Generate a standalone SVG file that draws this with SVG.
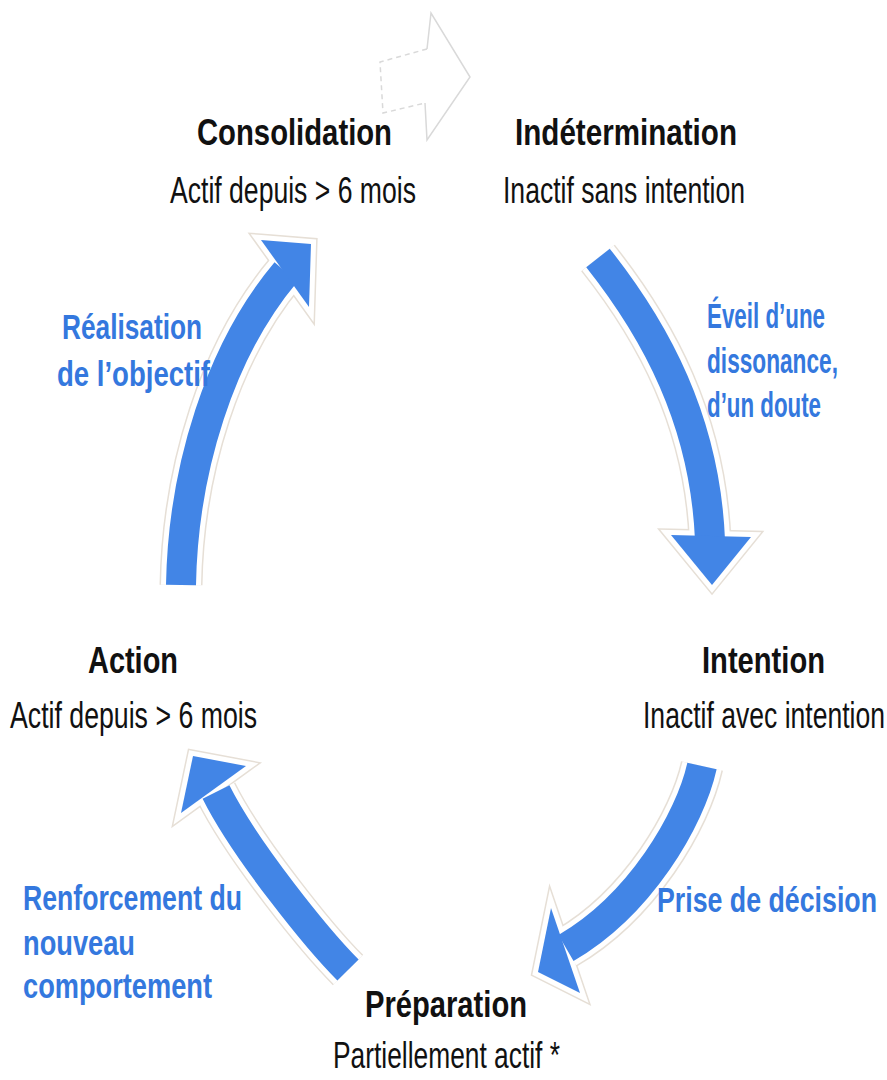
<svg xmlns="http://www.w3.org/2000/svg" width="887" height="1080" viewBox="0 0 887 1080">
<style>
.o{fill:none;stroke:#e6dfd6;stroke-width:43}
.w{fill:none;stroke:#ffffff;stroke-width:40}
.b{fill:none;stroke:#4285e6;stroke-width:30}
.oh{fill:#e6dfd6;stroke:#e6dfd6;stroke-width:13;stroke-linejoin:miter}
.wh{fill:#fff;stroke:#fff;stroke-width:10;stroke-linejoin:miter}
.bh{fill:#4285e6}
.t{font-family:"Liberation Sans",Arial,sans-serif;font-weight:bold;font-size:37px;fill:#111}
.s{font-family:"Liberation Sans",Arial,sans-serif;font-size:37px;fill:#111}
.l{font-family:"Liberation Sans",Arial,sans-serif;font-weight:bold;font-size:35px;fill:#3478de}
.ghost{fill:none;stroke:#d9d9d9;stroke-width:1.5}
</style>
<defs>
<path id="s1" d="M181,585 C183,470 220,350 286,272"/>
<polygon id="h1" points="261,240 311,244 309,307"/>
<path id="s2" d="M598,258 C655,330 705,420 710,540"/>
<polygon id="h2" points="671,535 751,537 712,585"/>
<path id="s3" d="M702,766 C690,820 640,905 566,948"/>
<polygon id="h3" points="551,908 580,993 538,972"/>
<path id="s4" d="M348,970 C318,940 245,850 216,792"/>
<polygon id="h4" points="246,766 181,813 193,756"/>
</defs>
<g id="ghost-arrow">
<path class="ghost" stroke-dasharray="5,4" d="M427,49 L380,62 L383,113 L425,103"/>
<path class="ghost" d="M427,49 L431,13 L470,77 L427,140 L425,103"/>
</g>
<g id="connectors">
<g id="arrow-realisation">
<use href="#s1" class="o"/><use href="#h1" class="oh"/>
<use href="#s1" class="w"/><use href="#h1" class="wh"/>
<use href="#s1" class="b"/><use href="#h1" class="bh"/>
</g>
<g id="arrow-eveil">
<use href="#s2" class="o"/><use href="#h2" class="oh"/>
<use href="#s2" class="w"/><use href="#h2" class="wh"/>
<use href="#s2" class="b"/><use href="#h2" class="bh"/>
</g>
<g id="arrow-prise">
<use href="#s3" class="o"/><use href="#h3" class="oh"/>
<use href="#s3" class="w"/><use href="#h3" class="wh"/>
<use href="#s3" class="b"/><use href="#h3" class="bh"/>
</g>
<g id="arrow-renforcement">
<use href="#s4" class="o"/><use href="#h4" class="oh"/>
<use href="#s4" class="w"/><use href="#h4" class="wh"/>
<use href="#s4" class="b"/><use href="#h4" class="bh"/>
</g>
<text class="l" x="62" y="339" textLength="140" lengthAdjust="spacingAndGlyphs">Réalisation</text>
<text class="l" x="57" y="386" textLength="153" lengthAdjust="spacingAndGlyphs">de l’objectif</text>
<text class="l" transform="translate(707,328) scale(0.7,1)" textLength="168.6" lengthAdjust="spacingAndGlyphs">Éveil d’une</text>
<text class="l" transform="translate(707,373) scale(0.7,1)" textLength="187.1" lengthAdjust="spacingAndGlyphs">dissonance,</text>
<text class="l" transform="translate(707,417) scale(0.7,1)" textLength="162.9" lengthAdjust="spacingAndGlyphs">d’un doute</text>
<text class="l" transform="translate(657,912) scale(0.7,1)" textLength="314.3" lengthAdjust="spacingAndGlyphs">Prise de décision</text>
<text class="l" x="23" y="910" textLength="219" lengthAdjust="spacingAndGlyphs">Renforcement du</text>
<text class="l" x="23" y="955" textLength="112" lengthAdjust="spacingAndGlyphs">nouveau</text>
<text class="l" x="23" y="998" textLength="189" lengthAdjust="spacingAndGlyphs">comportement</text>
</g>
<g id="consolidation">
<text class="t" x="197" y="145" textLength="195" lengthAdjust="spacingAndGlyphs">Consolidation</text>
<text class="s" x="170" y="203" textLength="246" lengthAdjust="spacingAndGlyphs">Actif depuis &gt; 6 mois</text>
</g>
<g id="indetermination">
<text class="t" x="515" y="145" textLength="222" lengthAdjust="spacingAndGlyphs">Indétermination</text>
<text class="s" x="503" y="203" textLength="242" lengthAdjust="spacingAndGlyphs">Inactif sans intention</text>
</g>
<g id="intention">
<text class="t" transform="translate(702,673) scale(0.75,1)" textLength="164" lengthAdjust="spacingAndGlyphs">Intention</text>
<text class="s" transform="translate(643,728) scale(0.7,1)" textLength="345.7" lengthAdjust="spacingAndGlyphs">Inactif avec intention</text>
</g>
<g id="preparation">
<text class="t" x="365" y="1017" textLength="162" lengthAdjust="spacingAndGlyphs">Préparation</text>
<text class="s" x="333" y="1068" textLength="227" lengthAdjust="spacingAndGlyphs">Partiellement actif *</text>
</g>
<g id="action">
<text class="t" x="88" y="673" textLength="90" lengthAdjust="spacingAndGlyphs">Action</text>
<text class="s" x="10" y="728" textLength="247" lengthAdjust="spacingAndGlyphs">Actif depuis &gt; 6 mois</text>
</g>
</svg>
